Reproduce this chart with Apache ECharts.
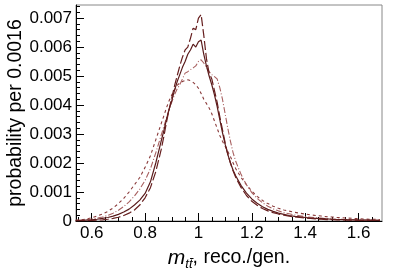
<!DOCTYPE html>
<html><head><meta charset="utf-8">
<script src="https://cdn.jsdelivr.net/npm/echarts@6/dist/echarts.min.js"></script>
<style>html,body{margin:0;padding:0;background:#fff}#c{width:399px;height:270px}</style>
</head><body><div id="c"></div>
<script>
const xs = [0.54,0.56,0.58,0.60,0.62,0.64,0.66,0.68,0.70,0.72,0.74,0.76,0.78,0.80,0.82,0.84,
0.86,0.87,0.88,0.89,0.90,0.91,0.92,0.93,0.94,0.95,0.96,0.97,0.98,0.99,1.00,1.01,1.02,1.03,1.04,1.05,1.06,1.07,1.08,1.09,1.10,1.11,1.12,1.13,1.14,
1.16,1.18,1.20,1.22,1.24,1.26,1.28,1.30,1.32,1.34,1.36,1.38,1.40,1.42,1.44,1.46,1.48,1.50,1.52,1.54,1.56,1.58,1.60,1.62,1.64,1.66,1.68];

const longDash = [0.00000,0.00001,0.00001,0.00002,0.00003,0.00004,0.00006,0.00009,0.00013,0.00019,0.00027,0.00038,0.00055,0.00080,0.00115,0.00170,
0.00245,0.00290,0.00340,0.00385,0.00425,0.00465,0.00500,0.00535,0.00565,0.00590,0.00600,0.00630,0.00665,0.00660,0.00700,0.00712,0.00640,0.00560,0.00510,0.00490,0.00450,0.00410,0.00360,0.00315,0.00270,0.00230,0.00200,0.00172,0.00150,
0.00115,0.00088,0.00068,0.00054,0.00043,0.00035,0.00029,0.00024,0.00020,0.00017,0.00014,0.00012,0.00010,0.00009,0.00007,0.00006,0.00005,0.00005,0.00004,0.00004,0.00003,0.00003,0.00002,0.00002,0.00002,0.00002,0.00001];

const solid = [0.00001,0.00002,0.00003,0.00004,0.00006,0.00009,0.00012,0.00017,0.00023,0.00031,0.00041,0.00055,0.00072,0.00095,0.00135,0.00200,
0.00275,0.00310,0.00350,0.00385,0.00415,0.00450,0.00480,0.00505,0.00530,0.00550,0.00575,0.00590,0.00610,0.00600,0.00618,0.00624,0.00575,0.00535,0.00500,0.00470,0.00435,0.00395,0.00350,0.00305,0.00265,0.00230,0.00200,0.00175,0.00155,
0.00122,0.00096,0.00076,0.00061,0.00049,0.00040,0.00033,0.00027,0.00023,0.00019,0.00016,0.00014,0.00012,0.00010,0.00009,0.00008,0.00007,0.00006,0.00005,0.00005,0.00004,0.00004,0.00003,0.00003,0.00003,0.00002,0.00002];

const dashDot = [0.00002,0.00003,0.00005,0.00007,0.00010,0.00014,0.00019,0.00027,0.00037,0.00050,0.00066,0.00086,0.00110,0.00140,0.00180,0.00235,
0.00295,0.00325,0.00355,0.00385,0.00410,0.00435,0.00455,0.00470,0.00490,0.00510,0.00515,0.00522,0.00528,0.00535,0.00550,0.00556,0.00545,0.00530,0.00515,0.00505,0.00498,0.00490,0.00460,0.00420,0.00370,0.00320,0.00275,0.00235,0.00205,
0.00160,0.00125,0.00098,0.00078,0.00063,0.00051,0.00042,0.00035,0.00029,0.00025,0.00021,0.00018,0.00015,0.00013,0.00011,0.00010,0.00008,0.00007,0.00006,0.00006,0.00005,0.00004,0.00004,0.00003,0.00003,0.00003,0.00002];

const dotted = [0.00002,0.00004,0.00007,0.00011,0.00017,0.00024,0.00033,0.00045,0.00060,0.00078,0.00100,0.00125,0.00150,0.00185,0.00225,0.00280,
0.00335,0.00362,0.00390,0.00415,0.00435,0.00452,0.00468,0.00476,0.00481,0.00485,0.00487,0.00484,0.00478,0.00470,0.00458,0.00440,0.00420,0.00405,0.00390,0.00370,0.00345,0.00320,0.00295,0.00275,0.00258,0.00240,0.00222,0.00200,0.00180,
0.00150,0.00125,0.00103,0.00085,0.00071,0.00060,0.00051,0.00044,0.00038,0.00034,0.00030,0.00027,0.00024,0.00021,0.00019,0.00017,0.00015,0.00014,0.00012,0.00011,0.00010,0.00009,0.00008,0.00007,0.00006,0.00006,0.00005];

const xMajor = [0.6,0.8,1.0,1.2,1.4,1.6];
const xMinor = [0.55,0.65,0.7,0.75,0.85,0.9,0.95,1.05,1.1,1.15,1.25,1.3,1.35,1.45,1.5,1.55,1.65];
const yMajor = [0,0.001,0.002,0.003,0.004,0.005,0.006,0.007];
const yMinor = [0.0002,0.0004,0.0006,0.0008,0.0012,0.0014,0.0016,0.0018,0.0022,0.0024,0.0026,0.0028,0.0032,0.0034,0.0036,0.0038,
0.0042,0.0044,0.0046,0.0048,0.0052,0.0054,0.0056,0.0058,0.0062,0.0064,0.0066,0.0068,0.0072,0.0074];

const XMIN = 0.541, XMAX = 1.688, YMIN = 0, YMAX = 0.00745;
const FONT = '"Liberation Sans", Arial, sans-serif';

function pts(ys){ return xs.map((x,i)=>[x, ys[i]]); }
function line(name, ys, color, type, w){
  return {name, type:'line', data: pts(ys), showSymbol:false, symbol:'none', clip:true,
    lineStyle:{color, width:w, type}, xAxisIndex:0, yAxisIndex:0, animation:false};
}

const chart = echarts.init(document.getElementById('c'), null, {renderer:'canvas'});
chart.setOption({
  animation:false,
  grid:{left:76, right:17, top:5, bottom:49, containLabel:false, outerBoundsMode:'none',
        show:true, borderColor:'#888', borderWidth:1, backgroundColor:'transparent'},
  xAxis:[
    {type:'value', min:XMIN, max:XMAX, position:'bottom',
     axisLine:{show:true, onZero:false, lineStyle:{color:'#000', width:1}},
     axisTick:{show:true, inside:true, length:8, customValues:xMajor, lineStyle:{color:'#000'}},
     axisLabel:{customValues:xMajor, color:'#000', fontSize:17, fontFamily:FONT, margin:4,
       formatter:v=>String(+(+v).toFixed(1))},
     splitLine:{show:false},
     name:'{m|m}{s|tt\u0304}{n|, reco./gen.}', nameLocation:'middle', nameGap:24, nameMoveOverlap:false,
     nameTextStyle:{rich:{
       m:{fontSize:21, fontStyle:'italic', fontFamily:FONT, color:'#000', lineHeight:26, verticalAlign:'middle'},
       s:{fontSize:13, fontStyle:'italic', fontFamily:FONT, color:'#000', lineHeight:26, verticalAlign:'bottom'},
       n:{fontSize:19.5, fontFamily:FONT, color:'#000', lineHeight:26, verticalAlign:'middle'}}}},
    {type:'value', min:XMIN, max:XMAX, position:'bottom',
     axisLine:{show:false}, axisLabel:{show:false}, splitLine:{show:false},
     axisTick:{show:true, inside:true, length:4, customValues:xMinor, lineStyle:{color:'#000'}}}
  ],
  yAxis:[
    {type:'value', min:YMIN, max:YMAX, position:'left',
     axisLine:{show:true, onZero:false, lineStyle:{color:'#000', width:1}},
     axisTick:{show:true, inside:true, length:8, customValues:yMajor, lineStyle:{color:'#000'}},
     axisLabel:{customValues:yMajor, color:'#000', fontSize:17, fontFamily:FONT, margin:4,
       formatter:v=> (Math.abs(v)<1e-12 ? '0' : (+v).toFixed(3))},
     splitLine:{show:false},
     name:'probability per 0.0016', nameLocation:'middle', nameGap:50, nameRotate:90, nameMoveOverlap:false,
     nameTextStyle:{fontSize:19.5, fontFamily:FONT, color:'#000'}},
    {type:'value', min:YMIN, max:YMAX, position:'left',
     axisLine:{show:false}, axisLabel:{show:false}, splitLine:{show:false},
     axisTick:{show:true, inside:true, length:4, customValues:yMinor, lineStyle:{color:'#000'}}}
  ],
  series:[
    line('dotted', dotted, '#8a3a3a', [3,3], 1.1),
    line('dashDot', dashDot, '#a86060', [6,2,1,2], 1.1),
    line('solid', solid, '#5a1c1c', 'solid', 1.2),
    line('longDash', longDash, '#661e1e', [9,3], 1.2)
  ]
});
</script>
</body></html>
